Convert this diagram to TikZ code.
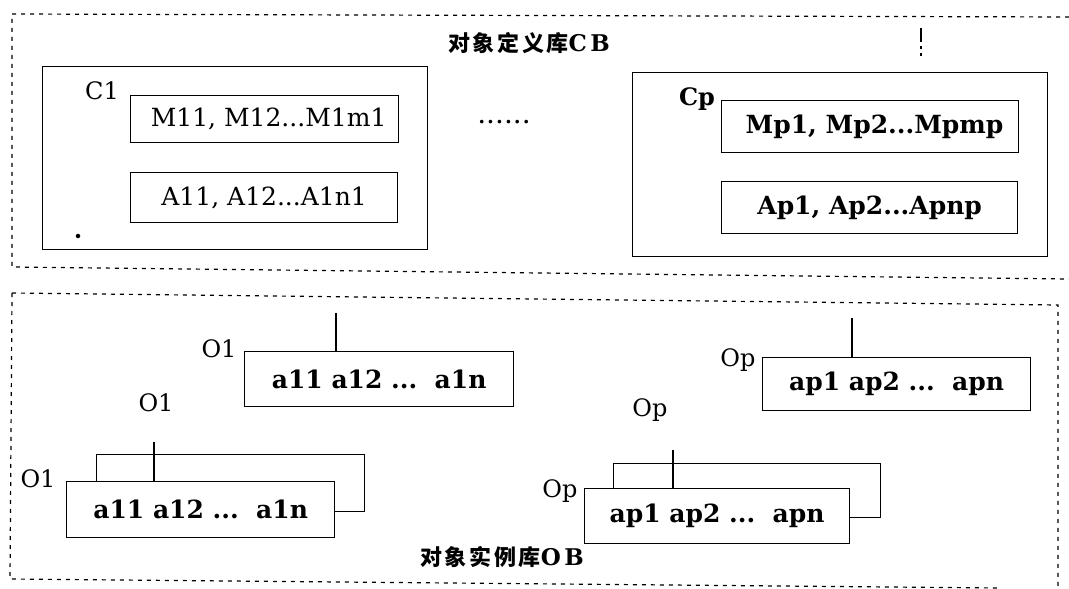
\documentclass[tikz,border=0pt]{standalone}
\usepackage{fontspec}
\setmainfont{DejaVu Serif}
\newfontfamily\cjk[LetterSpace=12]{Noto Sans CJK SC}
\newfontfamily\latsp[LetterSpace=15]{DejaVu Serif}
\begin{document}
\begin{tikzpicture}[x=1pt,y=-1pt,
  frame/.style={line width=1.2pt, dash pattern=on 4pt off 5pt},
  clsbox/.style={draw, line width=1.3pt, anchor=north west, inner sep=0pt},
  slot/.style={draw, line width=1.3pt, fill=white, anchor=north west, inner sep=0pt,
               font=\fontsize{25}{25}\selectfont},
  bslot/.style={slot, font=\fontsize{25}{25}\selectfont\bfseries},
  lab/.style={inner sep=0pt, font=\fontsize{24}{24}\selectfont},
  blab/.style={lab, font=\fontsize{24}{24}\selectfont\bfseries},
  link/.style={line width=1.3pt},
  title/.style={inner sep=0pt}]
\useasboundingbox (0,0) rectangle (1069,589);
\fill[white] (0,0) rectangle (1069,589);

% ---------- class base frame ----------
\draw[frame] (1069,17) -- (12,14) -- (12,267) -- (1069,279);
\draw[line width=1.1pt] (921,28) -- (921,42);
\draw[line width=1.1pt] (921,46) -- (921,49);
\draw[line width=1.1pt] (921,53) -- (921,56);
\node[title] (cbt) at (529,43)
  {{\cjk\bfseries\fontsize{22}{22}\selectfont 对象定义库}{\latsp\bfseries\fontsize{23}{23}\selectfont CB}};

% class C1
\node[clsbox, minimum width=385pt, minimum height=183pt] (c1) at (42,66) {};
\node[lab] (c1l) at (102,91) {C1};
\node[slot, minimum width=268pt, minimum height=47pt] (m1) at (130,95) {\ M11, M12...M1m1};
\node[slot, minimum width=267pt, minimum height=50pt] (a1) at (130,172) {A11, A12...A1n1};
\node[circle, fill, inner sep=1.6pt] (dot) at (78,236) {};

\node[inner sep=0pt, font=\fontsize{28}{28}\selectfont] (ell) at (504,122) {......};

% class Cp
\node[clsbox, minimum width=415pt, minimum height=184pt] (cp) at (632,72) {};
\node[blab] (cpl) at (697,99) {Cp};
\node[bslot, minimum width=297pt, minimum height=52pt] (mp) at (721,100) {\ Mp1, Mp2...Mpmp};
\node[bslot, minimum width=296pt, minimum height=52pt] (ap) at (721,181) {Ap1, Ap2...Apnp};

% ---------- object base frame ----------
\draw[frame] (12,293) -- (1058,305) -- (1058,589);
\draw[frame] (12,293) -- (10,579) -- (1000,588);
\node[title] (obt) at (502,557)
  {{\cjk\bfseries\fontsize{22}{22}\selectfont 对象实例库}{\latsp\bfseries\fontsize{23}{23}\selectfont OB}};

% object O1 (single)
\node[bslot, minimum width=269pt, minimum height=55pt] (o1) at (244,351) {a11 a12 ...\ \ a1n};
\coordinate (o1t) at (336,313);
\draw[link] (o1t) -- (o1t |- o1.north);
\node[lab] (o1l) at (219,349) {O1};

% object O1 (stacked)
\node[lab] (o1m) at (156,403) {O1};
\node[slot, minimum width=268pt, minimum height=57pt] (o1back) at (96,454) {};
\node[bslot, minimum width=268pt, minimum height=56pt] (o1f) at (66,481) {a11 a12 ...\ \ a1n\ };
\coordinate (o1ft) at (154,442);
\draw[link] (o1ft) -- (o1ft |- o1f.north);
\node[lab] (o1fl) at (38,479) {O1};

% object Op (single)
\node[bslot, minimum width=268pt, minimum height=53pt] (op) at (762,357) {ap1 ap2 ...\ \ apn};
\coordinate (opt) at (852,318);
\draw[link] (opt) -- (opt |- op.north);
\node[lab] (opl) at (738,360) {Op};

% object Op (stacked)
\node[lab] (opm) at (650,410) {Op};
\node[slot, minimum width=267pt, minimum height=54pt] (opback) at (613,463) {};
\node[bslot, minimum width=265pt, minimum height=55pt] (opf) at (584,488) {ap1 ap2 ...\ \ apn\ };
\coordinate (opft) at (673,450);
\draw[link] (opft) -- (opft |- opf.north);
\node[lab] (opfl) at (560,491) {Op};
\end{tikzpicture}
\end{document}
